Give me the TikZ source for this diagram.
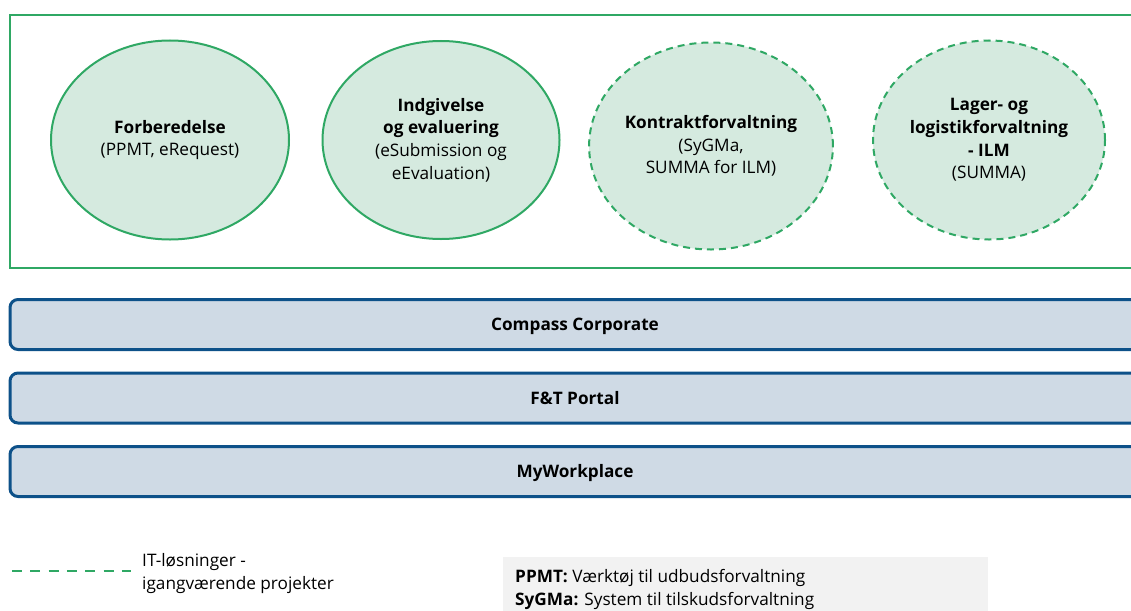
\documentclass[tikz,border=0pt]{standalone}
\usepackage{fontspec}
\setmainfont{Open Sans}
\usetikzlibrary{shapes.geometric}
\definecolor{grn}{HTML}{2FA864}
\definecolor{grnfill}{HTML}{D5EADF}
\definecolor{blu}{HTML}{0D5189}
\definecolor{blufill}{HTML}{CFDAE5}
\definecolor{legfill}{HTML}{F2F2F2}
\tikzset{
  txt/.style={font=\fontsize{17.2}{22.7}\selectfont, text=black},
  phase/.style={ellipse, draw=grn, fill=grnfill, line width=2pt, inner sep=0pt, align=center, txt},
  planned/.style={phase, dash pattern=on 7pt off 5pt},
  layer/.style={rectangle, rounded corners=8pt, draw=blu, fill=blufill, line width=3pt,
     minimum width=1130pt, minimum height=50pt, inner sep=0pt, text height=12pt, text depth=0pt,
     txt, font=\fontsize{17.2}{22.7}\selectfont\bfseries},
}
\begin{document}
\begin{tikzpicture}[x=1pt,y=-1pt]
\useasboundingbox (0,0) rectangle (1131,610);
\clip (0,0) rectangle (1131,610);
% outer container
\draw[grn, line width=2pt] (10,15) rectangle (1145,268);
% phases
\node[phase, minimum width=238pt, minimum height=199pt] (forb) at (170,140)
  {\textbf{Forberedelse}\\(PPMT, eRequest)};
\node[phase, minimum width=237pt, minimum height=198pt] (indg) at (441,140)
  {\textbf{Indgivelse}\\\textbf{og evaluering}\\(eSubmission og\\eEvaluation)};
\node[planned, minimum width=232pt, minimum height=207pt] (kontr) at (711,146)
  {\textbf{Kontraktforvaltning}\\(SyGMa,\\SUMMA for ILM)};
\node[planned, minimum width=232pt, minimum height=199pt] (lager) at (989,140)
  {\textbf{Lager- og}\\\textbf{logistikforvaltning}\\\textbf{- ILM}\\(SUMMA)};
% layers
\node[layer] (compass) at (575,324.5) {Compass Corporate};
\node[layer] (ftportal) at (575,398) {F\&T Portal};
\node[layer] (mywp) at (575,471.5) {MyWorkplace};
% legend
\coordinate (legA) at (12,571);
\coordinate (legB) at (131,571);
\draw[grn, line width=2.5pt, dash pattern=on 10pt off 8.3pt] (legA) -- (legB);
\node[txt, anchor=base west, align=left, inner sep=0pt] (legtxt) at (142,589)
  {IT-løsninger -\\igangværende projekter};
\fill[legfill] (503,557) rectangle (988,620);
\node[txt, anchor=base west, align=left, inner sep=0pt] (abbr) at (515,605)
  {\textbf{PPMT:} Værktøj til udbudsforvaltning\\\textbf{SyGMa:} System til tilskudsforvaltning};
\end{tikzpicture}
\end{document}
